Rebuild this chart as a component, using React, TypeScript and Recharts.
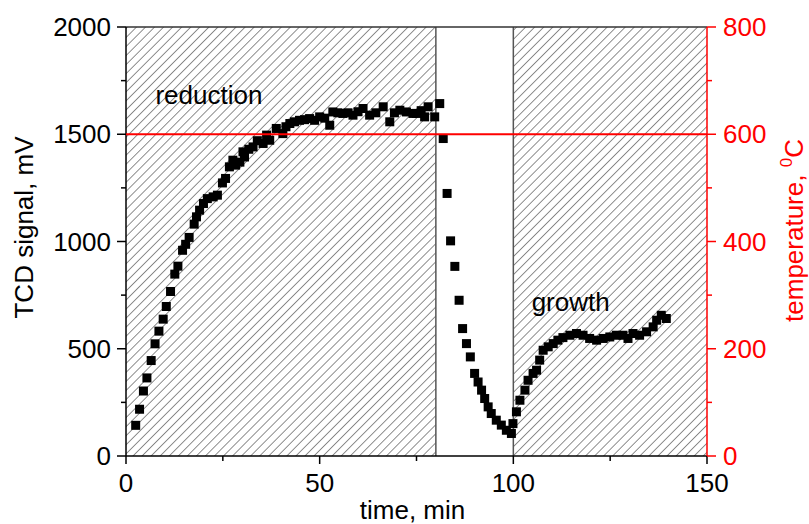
import React from "react";
import {
  ComposedChart,
  Scatter,
  XAxis,
  YAxis,
  ReferenceArea,
  ReferenceLine,
  ReferenceDot,
} from "recharts";

// TCD signal (mV) vs time (min)
const timeMin = [
  2.5, 3.5, 4.5, 5.4, 6.5, 7.5, 8.5, 9.6, 10.4, 11.5, 12.6, 13.4, 14.6, 15.4, 16.3, 17.6, 18.2, 19.0, 20.0,
  21.0, 22.5, 23.6, 24.9, 25.7, 26.7, 27.6, 28.3, 29.4, 30.2, 30.6, 31.7, 32.8, 33.9, 35.4, 36.3, 37.1, 38.8,
  40.5, 41.3, 42.3, 43.5, 44.8, 46.1, 47.4, 48.7, 50.0, 51.3, 52.6, 53.4, 54.7, 56.0, 57.3, 58.6, 59.9, 61.2,
  62.9, 64.5, 66.4, 68.1, 69.3, 70.7, 72.4, 74.1, 75.0, 76.2, 77.1, 78.0, 79.7, 81.0, 81.9, 82.9, 83.8, 84.9,
  86.0, 86.9, 87.9, 88.9, 90.0, 90.9, 91.8, 92.6, 93.5, 94.3, 95.6, 96.9, 98.2, 99.5, 99.9, 100.8, 101.7,
  103.0, 103.8, 105.1, 106.0, 106.8, 107.7, 109.0, 110.3, 111.5, 112.8, 114.6, 116.3, 118.0, 119.7, 121.5,
  123.2, 124.9, 126.6, 128.3, 129.6, 130.9, 132.6, 134.4, 136.1, 137.0, 138.2, 139.5,
];
const tcdSignal = [
  143, 218, 303, 364, 445, 523, 582, 638, 697, 767, 848, 885, 959, 987, 1019, 1081, 1115, 1146, 1177,
  1200, 1208, 1216, 1273, 1294, 1348, 1379, 1356, 1370, 1418, 1394, 1430, 1441, 1470, 1457, 1496, 1472, 1527,
  1503, 1535, 1550, 1558, 1565, 1568, 1573, 1565, 1581, 1575, 1542, 1604, 1600, 1597, 1600, 1589, 1605, 1620,
  1589, 1600, 1628, 1558, 1600, 1612, 1604, 1597, 1597, 1610, 1581, 1628, 1581, 1643, 1480, 1224, 1003, 884,
  726, 594, 524, 462, 385, 345, 307, 268, 229, 198, 167, 144, 120, 105, 151, 206, 260,
  307, 353, 385, 400, 447, 493, 509, 524, 540, 552, 563, 571, 563, 548, 540,
  548, 555, 563, 563, 548, 571, 563, 579, 602, 633, 656, 641,
];

// furnace temperature (°C), held constant over the run
const tempTime = [0, 150];
const tempValue = [600, 600];

// hatched stages (min)
const reductionStage = [0, 80];
const growthStage = [100, 150];

const xTicks = [0, 25, 50, 75, 100, 125, 150];
const leftTicks = [0, 250, 500, 750, 1000, 1250, 1500, 1750, 2000];
const rightTicks = [0, 100, 200, 300, 400, 500, 600, 700, 800];

const data = timeMin.map((t, i) => ({ t, v: tcdSignal[i] }));
const tempData = tempTime.map((t, i) => ({ t, temp: tempValue[i] }));

const FONT = "'Liberation Sans', Arial, sans-serif";
const RED = "#ff0000";

const BottomTick = ({ x, y, payload }: any) => {
  const major = payload.value % 50 === 0;
  return (
    <g>
      <line x1={x} y1={y} x2={x} y2={y + (major ? 8 : 5)} stroke="#000" strokeWidth={1.5} />
      {major && (
        <text x={x} y={y + 36} textAnchor="middle" fontSize={26} fill="#000" fontFamily={FONT}>
          {payload.value}
        </text>
      )}
    </g>
  );
};

const LeftTick = ({ x, y, payload }: any) => {
  const major = payload.value % 500 === 0;
  return (
    <g>
      <line x1={x - (major ? 9 : 5)} y1={y} x2={x} y2={y} stroke="#000" strokeWidth={1.5} />
      {major && (
        <text x={x - 15} y={y + 9} textAnchor="end" fontSize={26} fill="#000" fontFamily={FONT}>
          {payload.value}
        </text>
      )}
    </g>
  );
};

const RightTick = ({ x, y, payload }: any) => {
  const major = payload.value % 200 === 0;
  return (
    <g>
      <line x1={x} y1={y} x2={x + (major ? 9 : 5)} y2={y} stroke={RED} strokeWidth={1.5} />
      {major && (
        <text x={x + 16} y={y + 9} textAnchor="start" fontSize={26} fill={RED} fontFamily={FONT}>
          {payload.value}
        </text>
      )}
    </g>
  );
};

const Square = ({ cx, cy }: any) => (
  <rect x={cx - 4.5} y={cy - 4.5} width={9} height={9} fill="#000" />
);

const NoDot = () => <g />;

export default function App() {
  return (
    <div style={{ position: "absolute", left: 0, top: 0 }}>
      <ComposedChart
        width={809}
        height={524}
        margin={{ top: 27, right: 32, bottom: 0, left: 56 }}
        style={{ fontFamily: FONT }}
      >
        <defs>
          <pattern
            id="hatch"
            width={6.4}
            height={6.4}
            patternUnits="userSpaceOnUse"
            patternTransform="rotate(45)"
          >
            <line x1={0} y1={0} x2={0} y2={6.4} stroke="#333" strokeWidth={1.1} />
          </pattern>
        </defs>
        <XAxis
          type="number"
          dataKey="t"
          domain={[0, 150]}
          ticks={xTicks}
          interval={0}
          height={68}
          tickSize={0}
          tickMargin={0}
          tickLine={false}
          tick={<BottomTick />}
          axisLine={{ stroke: "#000", strokeWidth: 1.5 }}
          label={(p: any) => (
            <text
              x={p.viewBox.x + p.viewBox.width / 2 - 4}
              y={p.viewBox.y + 63}
              textAnchor="middle"
              fontSize={26}
              fill="#000"
              fontFamily={FONT}
            >
              time, min
            </text>
          )}
        />
        <YAxis
          yAxisId="left"
          type="number"
          domain={[0, 2000]}
          ticks={leftTicks}
          interval={0}
          width={70}
          tickSize={0}
          tickMargin={0}
          tickLine={false}
          tick={<LeftTick />}
          axisLine={{ stroke: "#000", strokeWidth: 1.5 }}
          label={(p: any) => {
            const cx = p.viewBox.x - 23;
            const cy = p.viewBox.y + p.viewBox.height / 2 - 14;
            return (
              <text
                x={cx}
                y={cy}
                transform={`rotate(-90, ${cx}, ${cy})`}
                textAnchor="middle"
                fontSize={26}
                fill="#000"
                fontFamily={FONT}
              >
                TCD signal, mV
              </text>
            );
          }}
        />
        <YAxis
          yAxisId="right"
          orientation="right"
          type="number"
          domain={[0, 800]}
          ticks={rightTicks}
          interval={0}
          width={70}
          tickSize={0}
          tickMargin={0}
          tickLine={false}
          tick={<RightTick />}
          axisLine={{ stroke: RED, strokeWidth: 1.5 }}
          label={(p: any) => {
            const cx = p.viewBox.x + 96;
            const cy = p.viewBox.y + p.viewBox.height / 2 - 11;
            return (
              <text
                x={cx}
                y={cy}
                transform={`rotate(-90, ${cx}, ${cy})`}
                textAnchor="middle"
                fontSize={26}
                fill={RED}
                fontFamily={FONT}
              >
                temperature,{" "}
                <tspan fontSize={17} dy={-11}>
                  0
                </tspan>
                <tspan dy={11}>C</tspan>
              </text>
            );
          }}
        />
        <ReferenceArea
          yAxisId="left"
          x1={reductionStage[0]}
          x2={reductionStage[1]}
          fill="url(#hatch)"
          fillOpacity={1}
          stroke="none"
        />
        <ReferenceArea
          yAxisId="left"
          x1={growthStage[0]}
          x2={growthStage[1]}
          fill="url(#hatch)"
          fillOpacity={1}
          stroke="none"
        />
        <ReferenceLine yAxisId="left" x={reductionStage[1]} stroke="#555" strokeWidth={1.5} />
        <ReferenceLine yAxisId="left" x={growthStage[0]} stroke="#555" strokeWidth={1.5} />
        <ReferenceLine yAxisId="left" y={2000} stroke="#333" strokeWidth={1.5} />
        <Scatter
          yAxisId="left"
          data={data}
          dataKey="v"
          fill="#000"
          shape={<Square />}
          isAnimationActive={false}
        />
        <Scatter
          yAxisId="right"
          data={tempData}
          dataKey="temp"
          fill={RED}
          line={{ stroke: RED, strokeWidth: 2 }}
          shape={<NoDot />}
          isAnimationActive={false}
        />
        <ReferenceDot
          yAxisId="left"
          x={21.4}
          y={1682}
          r={0}
          stroke="none"
          fill="none"
          label={{ value: "reduction", position: "center", fontSize: 26, fill: "#000", fontFamily: FONT }}
        />
        <ReferenceDot
          yAxisId="left"
          x={114.8}
          y={717}
          r={0}
          stroke="none"
          fill="none"
          label={{ value: "growth", position: "center", fontSize: 26, fill: "#000", fontFamily: FONT }}
        />
      </ComposedChart>
    </div>
  );
}
